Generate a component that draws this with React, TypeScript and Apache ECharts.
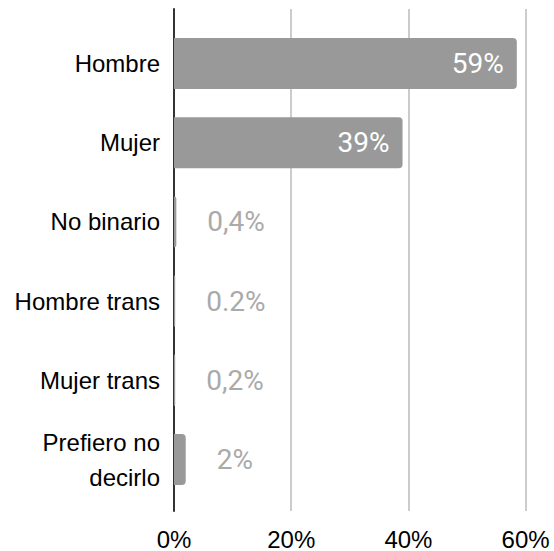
import React, { useEffect, useRef } from "react";
import * as echarts from "echarts";

const categories = ["Hombre", "Mujer", "No binario", "Hombre trans", "Mujer trans", "Prefiero no\ndecirlo"];
const values = [58.5, 39, 0.4, 0.2, 0.2, 2];
const valueLabels = ["59%", "39%", "0,4%", "0.2%", "0,2%", "2%"];
const insideLabel = [true, true, false, false, false, false];
const xMin = 0;
const xMax = 60;
const xInterval = 20;

export default function App() {
  const ref = useRef<HTMLDivElement>(null);
  useEffect(() => {
    if (!ref.current) return;
    const chart = echarts.init(ref.current, null, { renderer: "svg" });
    const right = 28.4;
    chart.setOption({
      animation: false,
      backgroundColor: "#ffffff",
      grid: [
        { left: 174, right, top: 23.9, bottom: 551 - 499.1 },
        { left: 174, right, top: 9, bottom: 551 - 512 },
      ],
      xAxis: [
        { gridIndex: 0, type: "value", min: xMin, max: xMax, show: false },
        {
          gridIndex: 1,
          type: "value",
          min: xMin,
          max: xMax,
          interval: xInterval,
          axisLine: { show: false },
          axisTick: { show: false },
          axisLabel: {
            formatter: "{value}%",
            color: "#000000",
            fontFamily: "Liberation Sans",
            fontSize: 24,
            margin: 16,
          },
          splitLine: { show: true, lineStyle: { color: "#cccccc", width: 2 } },
        },
      ],
      yAxis: [
        {
          gridIndex: 0,
          type: "category",
          data: categories,
          inverse: true,
          axisLine: { show: false },
          axisTick: { show: false },
          splitLine: { show: false },
          axisLabel: {
            color: "#000000",
            fontFamily: "Liberation Sans",
            fontSize: 24,
            margin: 14,
            lineHeight: 35,
            align: "right",
          },
        },
        {
          gridIndex: 1,
          type: "value",
          min: 0,
          max: 1,
          axisLine: { show: true, onZero: false, lineStyle: { color: "#333333", width: 2 } },
          axisTick: { show: false },
          axisLabel: { show: false },
          splitLine: { show: false },
        },
      ],
      series: [
        {
          type: "bar",
          xAxisIndex: 0,
          yAxisIndex: 0,
          barWidth: 51,
          itemStyle: { color: "#999999", borderRadius: [0, 4, 4, 0] },
          data: values.map((v, i) => ({
            value: v,
            label: {
              show: true,
              formatter: valueLabels[i],
              position: insideLabel[i] ? "insideRight" : "right",
              distance: insideLabel[i] ? 13 : 31,
              color: insideLabel[i] ? "#ffffff" : "#aaaaaa",
              fontFamily: "Roboto",
              fontSize: 28,
            },
          })),
        },
      ],
    });
    return () => chart.dispose();
  }, []);
  return (
    <div
      ref={ref}
      style={{ position: "fixed", left: 0, top: 0, width: 554, height: 551 }}
    />
  );
}
